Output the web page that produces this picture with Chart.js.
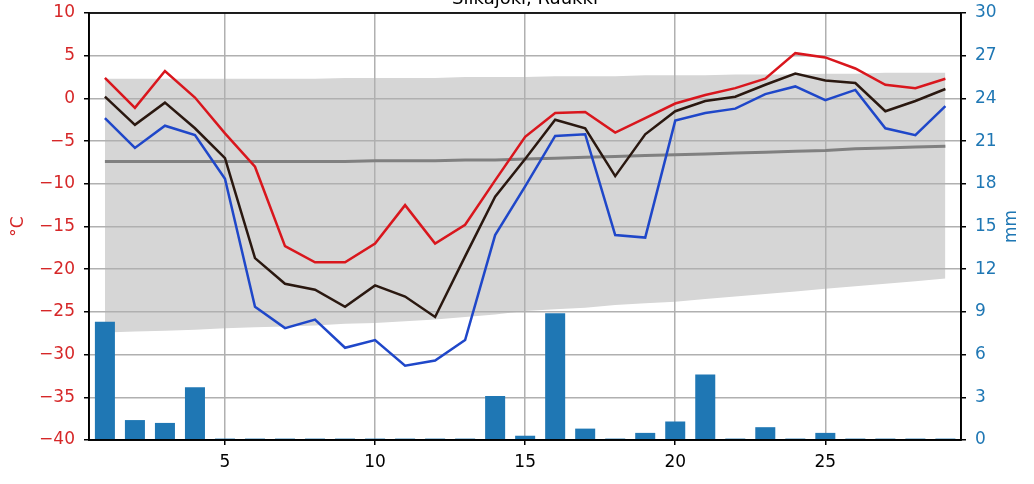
<!DOCTYPE html>
<html>
<head>
<meta charset="utf-8">
<script src="https://cdn.jsdelivr.net/npm/chart.js@4/dist/chart.umd.min.js"></script>
<style>
  html, body { margin: 0; padding: 0; background: #fff; }
  #wrap { position: relative; width: 1034px; height: 484px; }
  canvas { display: block; }
</style>
</head>
<body>
<div id="wrap"><canvas id="chart" width="1034" height="484"></canvas></div>
<script>
// päivät
const days = [1, 2, 3, 4, 5, 6, 7, 8, 9, 10, 11, 12, 13, 14, 15, 16, 17, 18, 19, 20, 21, 22, 23, 24, 25, 26, 27, 28, 29];

// lämpötilat (°C)
const tMax  = [2.4, -1.1, 3.2, 0.1, -4.1, -8.0, -17.3, -19.2, -19.2, -17.0, -12.5, -17.0, -14.8, -9.6, -4.5, -1.7, -1.6, -4.0, -2.3, -0.6, 0.4, 1.2, 2.3, 5.3, 4.8, 3.5, 1.6, 1.2, 2.3];
const tMean = [0.2, -3.1, -0.5, -3.5, -7.0, -18.7, -21.7, -22.4, -24.4, -21.9, -23.2, -25.6, -18.5, -11.5, -7.1, -2.5, -3.5, -9.1, -4.2, -1.5, -0.3, 0.2, 1.6, 2.9, 2.1, 1.8, -1.5, -0.3, 1.1];
const tMin  = [-2.3, -5.8, -3.2, -4.3, -9.4, -24.4, -26.9, -25.9, -29.2, -28.3, -31.3, -30.7, -28.3, -16.0, -10.3, -4.4, -4.2, -16.0, -16.3, -2.6, -1.7, -1.2, 0.5, 1.4, -0.2, 1.0, -3.5, -4.3, -0.9];

// pitkän ajan keskiarvo ja vaihteluväli
const climMean = [-7.4, -7.4, -7.4, -7.4, -7.4, -7.4, -7.4, -7.4, -7.4, -7.3, -7.3, -7.3, -7.2, -7.2, -7.1, -7.0, -6.9, -6.8, -6.7, -6.6, -6.5, -6.4, -6.3, -6.2, -6.1, -5.9, -5.8, -5.7, -5.6];
const climHigh = [2.3, 2.3, 2.3, 2.3, 2.3, 2.3, 2.3, 2.3, 2.4, 2.4, 2.4, 2.4, 2.5, 2.5, 2.5, 2.6, 2.6, 2.6, 2.7, 2.7, 2.7, 2.8, 2.8, 2.8, 2.9, 2.9, 3.0, 3.0, 3.0];
const climLow  = [-27.4, -27.3, -27.2, -27.1, -26.9, -26.8, -26.7, -26.6, -26.4, -26.3, -26.1, -25.9, -25.6, -25.3, -24.9, -24.7, -24.5, -24.2, -24.0, -23.8, -23.5, -23.2, -22.9, -22.6, -22.3, -22.0, -21.7, -21.4, -21.1];

// sademäärä (mm)
const precip = [8.3, 1.4, 1.2, 3.7, 0.1, 0.1, 0.1, 0.1, 0.1, 0.1, 0.1, 0.1, 0.1, 3.1, 0.3, 8.9, 0.8, 0.1, 0.5, 1.3, 4.6, 0.1, 0.9, 0.1, 0.5, 0.1, 0.1, 0.1, 0.1];

const xTicks = [5, 10, 15, 20, 25];
const titleText = "Siikajoki, Ruukki";

const RED = "#d62728";
const BLUE = "#1f77b4";
const FONT = "DejaVu Sans";

function pts(values) {
    return days.map((d, i) => ({ x: d, y: values[i] }));
}

function minus(v) {
    return String(v).replace("-", "\u2212");
}

// y-akselit: kiinteä leveys, ei ylimääräistä tilaa tekstien takia
function fixWidth(w) {
    return s => {
        s.width = w;
        s.paddingTop = 0;
        s.paddingBottom = 0;
    };
}

// otsikko, akselien nimet ja kehys
const extras = {
    id: "extras",
    afterDraw(chart) {
        const ctx = chart.ctx;
        const a = chart.chartArea;
        ctx.save();
        ctx.strokeStyle = "#000";
        ctx.lineWidth = 1.7;
        ctx.strokeRect(a.left, a.top, a.right - a.left, a.bottom - a.top);

        ctx.fillStyle = "#000";
        ctx.font = "18px '" + FONT + "'";
        ctx.textAlign = "center";
        ctx.textBaseline = "alphabetic";
        ctx.fillText(titleText, (a.left + a.right) / 2, 4);

        const midY = (a.top + a.bottom) / 2;
        ctx.font = "17px '" + FONT + "'";
        ctx.textBaseline = "middle";

        ctx.save();
        ctx.translate(19, midY);
        ctx.rotate(-Math.PI / 2);
        ctx.fillStyle = RED;
        ctx.fillText("°C", 0, 0);
        ctx.restore();

        ctx.save();
        ctx.translate(1012, midY);
        ctx.rotate(-Math.PI / 2);
        ctx.fillStyle = BLUE;
        ctx.fillText("mm", 0, 0);
        ctx.restore();

        ctx.restore();
    }
};

const lineDefaults = { type: "line", pointRadius: 0, tension: 0, fill: false, borderWidth: 2.5, yAxisID: "y" };

new Chart(document.getElementById("chart"), {
    type: "line",
    data: {
        datasets: [
            Object.assign({}, lineDefaults, {
                label: "climMean", data: pts(climMean), borderColor: "#808080", borderWidth: 3, order: 8
            }),
            Object.assign({}, lineDefaults, {
                label: "climLow", data: pts(climLow), borderWidth: 0, borderColor: "rgba(0,0,0,0)", order: 10
            }),
            Object.assign({}, lineDefaults, {
                label: "climHigh", data: pts(climHigh), borderWidth: 0, borderColor: "rgba(0,0,0,0)",
                backgroundColor: "#d6d6d6", fill: 1, order: 9
            }),
            Object.assign({}, lineDefaults, {
                label: "tMin", data: pts(tMin), borderColor: "#1f47c9", order: 5
            }),
            Object.assign({}, lineDefaults, {
                label: "tMean", data: pts(tMean), borderColor: "#2a1810", order: 4
            }),
            Object.assign({}, lineDefaults, {
                label: "tMax", data: pts(tMax), borderColor: "#d9161d", order: 3
            }),
            {
                type: "bar",
                label: "precip",
                data: pts(precip),
                yAxisID: "y2",
                backgroundColor: BLUE,
                borderWidth: 0,
                categoryPercentage: 1,
                barPercentage: 0.667,
                order: 1
            }
        ]
    },
    options: {
        responsive: false,
        animation: false,
        devicePixelRatio: 1,
        layout: { padding: { top: 13, left: 0, right: 0, bottom: 0 } },
        plugins: {
            legend: { display: false },
            title: { display: false },
            tooltip: { enabled: false },
            filler: { drawTime: "beforeDraw" }
        },
        scales: {
            x: {
                type: "linear",
                min: 0.47,
                max: 29.52,
                offset: false,
                afterFit: s => { s.height = 44; s.paddingLeft = 0; s.paddingRight = 0; },
                afterBuildTicks: s => { s.ticks = xTicks.map(v => ({ value: v })); },
                grid: { color: "#b0b0b0", lineWidth: 1.5, tickColor: "#000", tickLength: 5, offset: false },
                border: { color: "#000", width: 1.7 },
                ticks: { color: "#000", font: { family: FONT, size: 17 }, padding: 7, maxRotation: 0 }
            },
            y: {
                position: "left",
                min: -40,
                max: 10,
                afterFit: fixWidth(89),
                grid: { color: "#b0b0b0", lineWidth: 1.5, tickColor: "#000", tickLength: 5 },
                border: { color: "#000", width: 1.7 },
                ticks: { stepSize: 5, color: RED, font: { family: FONT, size: 17 }, padding: 9, callback: v => minus(v) }
            },
            y2: {
                position: "right",
                min: 0,
                max: 30,
                afterFit: fixWidth(73),
                grid: { drawOnChartArea: false, tickColor: "#000", tickLength: 5, lineWidth: 1.5 },
                border: { color: "#000", width: 1.7 },
                ticks: { stepSize: 3, color: BLUE, font: { family: FONT, size: 17 }, padding: 9 }
            }
        }
    },
    plugins: [extras]
});
</script>
</body>
</html>
